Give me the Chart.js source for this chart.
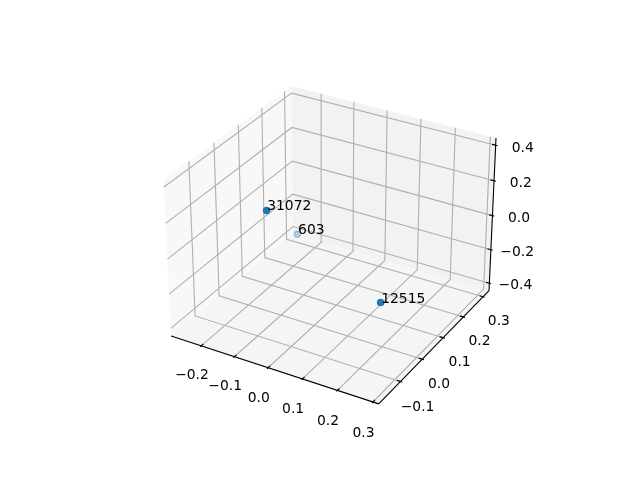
<!DOCTYPE html>
<html>
<head>
<meta charset="utf-8">
<style>
  html, body { margin: 0; padding: 0; background: #ffffff; }
  canvas { display: block; }
</style>
<script src="https://cdn.jsdelivr.net/npm/chart.js@4/dist/chart.umd.min.js"></script>
</head>
<body>
<canvas id="chart" width="640" height="480"></canvas>
<script>
// values
const pointNames = ['31072', '603', '12515'];
const xValues = [-0.013, -0.262, 0.289];
const yValues = [-0.173, 0.308, -0.1515];
const zValues = [0.397, -0.405, 0.047];

const xLim = [-0.292, 0.316];
const yLim = [-0.197, 0.331];
const zLim = [-0.445, 0.44];

const xTicks = [-0.2, -0.1, 0.0, 0.1, 0.2, 0.3];
const yTicks = [-0.1, 0.0, 0.1, 0.2, 0.3];
const zTicks = [-0.4, -0.2, 0.0, 0.2, 0.4];
const xTickLabels = ['\u22120.2', '\u22120.1', '0.0', '0.1', '0.2', '0.3'];
const yTickLabels = ['\u22120.1', '0.0', '0.1', '0.2', '0.3'];
const zTickLabels = ['\u22120.4', '\u22120.2', '0.0', '0.2', '0.4'];

// camera: elevation 30, azimuth -60, eye at distance 10
const box = [1.1905, 1.1905, 0.8929];
const dist = 10;
const u = [0.8660, 0.5, 0];
const v = [-0.25, 0.4330, 0.8660];
const w = [0.4330, -0.75, 0.5];
const viewLim = [-0.95 / dist, 0.9 / dist];

function dot(a, b) {
    return a[0] * b[0] + a[1] * b[1] + a[2] * b[2];
}

function toWorld(p) {
    return [
        ((p[0] - xLim[0]) / (xLim[1] - xLim[0]) - 0.5) * box[0],
        ((p[1] - yLim[0]) / (yLim[1] - yLim[0]) - 0.5) * box[1],
        ((p[2] - zLim[0]) / (zLim[1] - zLim[0]) - 0.5) * box[2]
    ];
}

function project(p) {
    const q = toWorld(p);
    const d = dist - dot(w, q);
    return { x: dot(u, q) / d, y: dot(v, q) / d };
}

// several 3D paths into one list, with gaps between them
function paths(list) {
    const out = [];
    list.forEach((path, i) => {
        if (i > 0) out.push({ x: NaN, y: NaN });
        path.forEach(p => out.push(project(p)));
    });
    return out;
}

const xSpan = xLim[1] - xLim[0];
const ySpan = yLim[1] - yLim[0];
const zSpan = zLim[1] - zLim[0];
const [x0, x1] = xLim;
const [y0, y1] = yLim;
const [z0, z1] = zLim;

const gridPaths = [
    ...xTicks.map(t => [[t, y0, z0], [t, y1, z0], [t, y1, z1]]),
    ...yTicks.map(t => [[x1, t, z0], [x0, t, z0], [x0, t, z1]]),
    ...zTicks.map(t => [[x0, y0, t], [x0, y1, t], [x1, y1, t]])
];

const axisPaths = [
    [[x0, y0, z0], [x1, y0, z0]],
    [[x1, y0, z0], [x1, y1, z0]],
    [[x1, y1, z0], [x1, y1, z1]]
];

const tickOut = 0.1 / 12;
const tickIn = 0.2 / 12;
const tickPaths = [
    ...xTicks.map(t => [[t, y0 - tickOut * ySpan, z0], [t, y0 + tickIn * ySpan, z0]]),
    ...yTicks.map(t => [[x1 + tickOut * xSpan, t, z0], [x1 - tickIn * xSpan, t, z0]]),
    ...zTicks.map(t => [[x1 + tickOut * xSpan, y1, t], [x1 - tickIn * xSpan, y1, t]])
];

function pane(corners, color) {
    return {
        data: paths([corners]),
        showLine: true,
        fill: 'shape',
        backgroundColor: color,
        borderWidth: 0,
        borderColor: 'rgba(0,0,0,0)',
        pointRadius: 0,
        clip: false,
        order: 5
    };
}

function lines(list, color, order) {
    return {
        data: paths(list),
        showLine: true,
        fill: false,
        borderColor: color,
        borderWidth: 1.11,
        pointRadius: 0,
        clip: false,
        order: order
    };
}

// nearer points stay solid, the farthest fades to 0.3
const points3d = xValues.map((x, i) => [x, yValues[i], zValues[i]]);
const depths = points3d.map(p => dot(w, toWorld(p)));
const depthMin = Math.min(...depths);
const depthMax = Math.max(...depths);
const pointColors = depths.map(z => {
    const alpha = 0.3 + 0.7 * (z - depthMin) / (depthMax - depthMin);
    return 'rgba(31, 119, 180, ' + alpha.toFixed(3) + ')';
});

// tick labels and point labels
const textPlugin = {
    id: 'textPlugin',
    afterDatasetsDraw(chart) {
        const ctx = chart.ctx;
        const sx = chart.scales.x;
        const sy = chart.scales.y;
        const put = (p, text, shift) => {
            const q = project(p);
            ctx.fillText(text, sx.getPixelForValue(q.x) + shift, sy.getPixelForValue(q.y));
        };
        ctx.save();
        ctx.fillStyle = '#000000';
        ctx.font = '13.89px "DejaVu Sans"';
        ctx.textAlign = 'center';
        ctx.textBaseline = 'middle';
        xTicks.forEach((t, i) => put([t, y0 - 0.076 * ySpan, z0 - 0.14 * zSpan], xTickLabels[i], 0));
        yTicks.forEach((t, i) => put([x1 + 0.081 * xSpan, t, z0 - 0.133 * zSpan], yTickLabels[i], 0));
        zTicks.forEach((t, i) => put([x1 + 0.086 * xSpan, y1 + 0.086 * ySpan, t - 0.04 * zSpan], zTickLabels[i], 0));
        ctx.textAlign = 'left';
        ctx.textBaseline = 'alphabetic';
        points3d.forEach((p, i) => put(p, pointNames[i], 0.6));
        ctx.restore();
    }
};

new Chart(document.getElementById('chart'), {
    type: 'scatter',
    data: {
        datasets: [
            pane([[x0, y0, z0], [x0, y1, z0], [x0, y1, z1], [x0, y0, z1], [x0, y0, z0]], 'rgba(242, 242, 242, 0.5)'),
            pane([[x0, y1, z0], [x1, y1, z0], [x1, y1, z1], [x0, y1, z1], [x0, y1, z0]], 'rgba(230, 230, 230, 0.5)'),
            pane([[x0, y0, z0], [x1, y0, z0], [x1, y1, z0], [x0, y1, z0], [x0, y0, z0]], 'rgba(236, 236, 236, 0.5)'),
            lines(gridPaths, '#b0b0b0', 4),
            lines(axisPaths, '#000000', 3),
            lines(tickPaths, '#000000', 3),
            {
                data: points3d.map(project),
                backgroundColor: pointColors,
                borderColor: pointColors,
                borderWidth: 1.39,
                pointRadius: 3.1,
                clip: false,
                order: 1
            }
        ]
    },
    options: {
        responsive: false,
        animation: false,
        layout: { padding: { left: 143.2, right: 127.2, top: 57.6, bottom: 52.8 } },
        plugins: { legend: { display: false }, tooltip: { enabled: false } },
        scales: {
            x: { type: 'linear', display: false, min: viewLim[0], max: viewLim[1] },
            y: { type: 'linear', display: false, min: viewLim[0], max: viewLim[1] }
        }
    },
    plugins: [textPlugin]
});
</script>
</body>
</html>
